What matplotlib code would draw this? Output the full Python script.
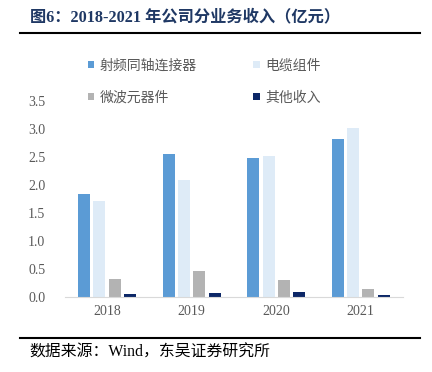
import numpy as np
import matplotlib.pyplot as plt
import matplotlib

matplotlib.rcParams['font.family'] = ['Liberation Serif', 'Noto Sans CJK SC']

years = ['2018', '2019', '2020', '2021']
names = ['射频同轴连接器', '电缆组件', '微波元器件', '其他收入']
rf_conn = [1.84, 2.55, 2.49, 2.82]
cable = [1.71, 2.09, 2.52, 3.02]
microwave = [0.32, 0.47, 0.30, 0.15]
other = [0.05, 0.08, 0.09, 0.04]
series = [rf_conn, cable, microwave, other]
colors = ['#5B9BD5', '#DEEBF7', '#B3B3B3', '#0C2767']

fig = plt.figure(figsize=(4.32, 3.72), dpi=100)
ax = fig.add_axes([0.150, 0.2016, 0.783, 0.527])

x = np.arange(len(years))
w = 0.142
step = 0.181
bars = []
for i, (vals, c) in enumerate(zip(series, colors)):
    b = ax.bar(x + (i - 1.5) * step, vals, width=w, color=c, label=names[i], zorder=2)
    bars.append(b)

ax.set_xlim(-0.5, 3.5)
ax.set_ylim(0, 3.5)
ax.set_yticks(np.arange(0, 3.51, 0.5))
ax.set_yticklabels(['%.1f' % v for v in np.arange(0, 3.51, 0.5)])
ax.set_xticks(x)
ax.set_xticklabels(years)
ax.tick_params(axis='both', length=0, labelsize=10, labelcolor='#595959')
ax.tick_params(axis='y', pad=14)
ax.tick_params(axis='x', pad=6)
for s in ['top', 'right', 'left']:
    ax.spines[s].set_visible(False)
ax.spines['bottom'].set_color('#D9D9D9')

# 图例按行排列：先射频、电缆，再微波、其他
order = [0, 2, 1, 3]
leg = fig.legend([bars[i] for i in order], [names[i] for i in order],
                 loc='upper left', bbox_to_anchor=(0.188, 0.861), ncol=2, frameon=False,
                 borderpad=0, handlelength=0.45, handleheight=0.45, handletextpad=0.4,
                 columnspacing=4.05, labelspacing=1.3,
                 prop={'family': ['Noto Sans CJK SC'], 'size': 10})
for t in leg.get_texts():
    t.set_color('#595959')

# 标题与来源
fig.text(0.069, 0.952, '图6：2018-2021 年公司分业务收入（亿元）', fontsize=11.7,
         fontweight='bold', color='#1F3864', va='center')
fig.add_artist(plt.Line2D([0.046, 0.972], [0.911, 0.911], color='black', lw=1.5))
fig.add_artist(plt.Line2D([0.046, 0.972], [0.091, 0.091], color='black', lw=1.5))
fig.text(0.069, 0.051, '数据来源：Wind，东吴证券研究所', fontsize=11.4, color='black', va='center')

plt.savefig('out.png')
